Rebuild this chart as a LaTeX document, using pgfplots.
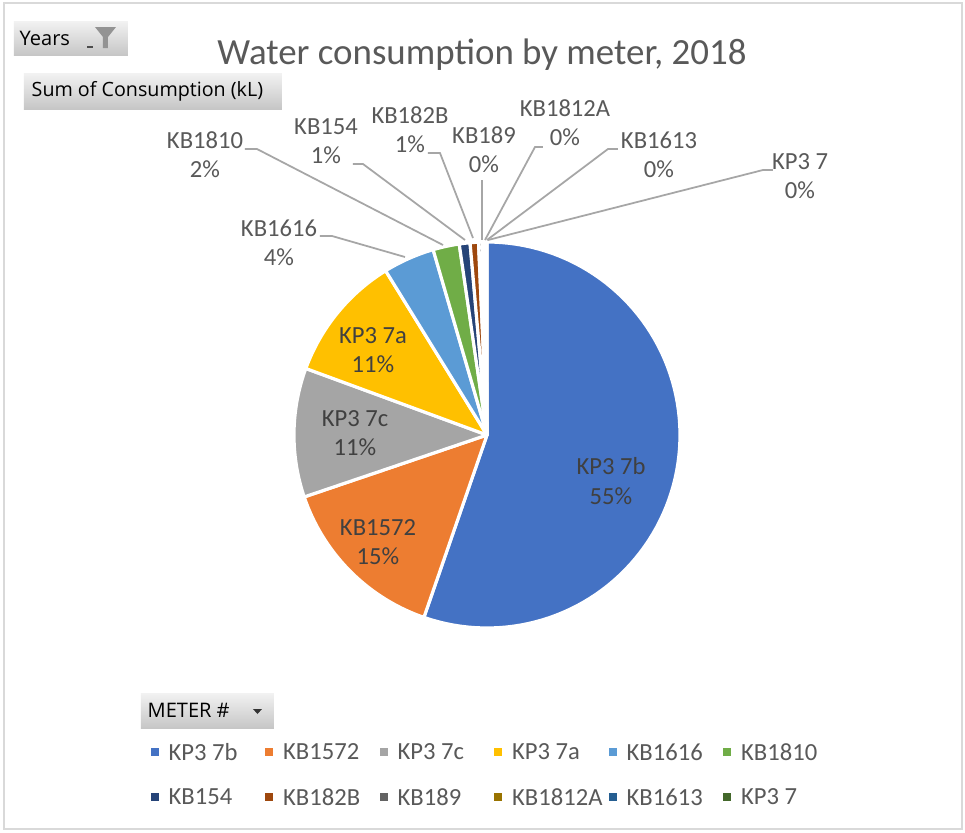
\documentclass[border=0pt]{standalone}
\usepackage{pgfplots}
\pgfplotsset{compat=1.18}
\usepackage{fontspec}
\setmainfont{Carlito}
\newfontfamily\btnfont{Open Sans}
\definecolor{c1}{HTML}{4472C4}
\definecolor{c2}{HTML}{ED7D31}
\definecolor{c3}{HTML}{A5A5A5}
\definecolor{c4}{HTML}{FFC000}
\definecolor{c5}{HTML}{5B9BD5}
\definecolor{c6}{HTML}{70AD47}
\definecolor{c7}{HTML}{264478}
\definecolor{c8}{HTML}{9E480E}
\definecolor{c9}{HTML}{636363}
\definecolor{c10}{HTML}{997300}
\definecolor{c11}{HTML}{255E91}
\definecolor{c12}{HTML}{43682B}
\definecolor{txt}{HTML}{595959}
\definecolor{intxt}{HTML}{404040}
\definecolor{leader}{HTML}{A6A6A6}
\definecolor{framegray}{HTML}{D9D9D9}
\definecolor{btntop}{HTML}{F2F2F2}
\definecolor{btnbot}{HTML}{C6C6C6}
% value in percent of total consumption; slices from cumulative start to end
\newcommand{\pieslice}[3]{%
  \addplot[draw=white, line width=0.9pt, line join=round, fill=#3,
    domain=#1*3.6:#2*3.6, samples=90, variable=\t]
    ({487+193*sin(\t)},{397+193*cos(\t)}) -- (axis cs:487,397) -- cycle;
}
\begin{document}
\begin{tikzpicture}
\begin{axis}[
  scale only axis, width=9.65cm, height=8.32cm,
  xmin=0, xmax=965, ymin=0, ymax=832,
  hide axis, clip=false,
]
\path[fill=white] (axis cs:0,0) rectangle (axis cs:965,832);
\draw[framegray, line width=0.5pt] (axis cs:4,3) rectangle (axis cs:962,829);

% slices: KP3 7b 55.3, KB1572 14.5, KP3 7c 10.8, KP3 7a 10.6, KB1616 4.3,
% KB1810 2.2, KB154 0.9, KB182B 0.7, KB189 0.3, KB1812A 0.2, KB1613 0.1, KP3 7 0.1
\pieslice{0}{55.3}{c1}
\pieslice{55.3}{69.8}{c2}
\pieslice{69.8}{80.6}{c3}
\pieslice{80.6}{91.2}{c4}
\pieslice{91.2}{95.5}{c5}
\pieslice{95.5}{97.7}{c6}
\pieslice{97.7}{98.6}{c7}
\pieslice{98.6}{99.3}{c8}
\pieslice{99.3}{99.6}{c9}
\pieslice{99.6}{99.8}{c10}
\pieslice{99.8}{99.9}{c11}
\pieslice{99.9}{100}{c12}

% leader lines
\addplot[leader, line width=0.5pt, no marks] coordinates {(320,596) (332,596) (405,575)};
\addplot[leader, line width=0.5pt, no marks] coordinates {(245,683) (257,683) (443,587)};
\addplot[leader, line width=0.5pt, no marks] coordinates {(353,668) (363,668) (465,592)};
\addplot[leader, line width=0.5pt, no marks] coordinates {(428,679) (440,679) (473,594)};
\addplot[leader, line width=0.5pt, no marks] coordinates {(482,652) (482,592)};
\addplot[leader, line width=0.5pt, no marks] coordinates {(543,685) (535,685) (485,592)};
\addplot[leader, line width=0.5pt, no marks] coordinates {(618,683) (608,683) (487,592)};
\addplot[leader, line width=0.5pt, no marks] coordinates {(773,662) (763,662) (488,592)};

\tikzset{lab/.style={align=center, font=\fontsize{7}{8.3}\selectfont, text=txt, inner sep=0pt},
         inlab/.style={align=center, font=\fontsize{7}{8.3}\selectfont, text=intxt, inner sep=0pt}}
% inside labels
\node[inlab] at (axis cs:611,351) {KP3 7b\\55\%};
\node[inlab] at (axis cs:378,290) {KB1572\\15\%};
\node[inlab] at (axis cs:355,399) {KP3 7c\\11\%};
\node[inlab] at (axis cs:373,482) {KP3 7a\\11\%};
% outside labels
\node[lab] at (axis cs:279,589.5) {KB1616\\4\%};
\node[lab] at (axis cs:205,677) {KB1810\\2\%};
\node[lab] at (axis cs:326,691) {KB154\\1\%};
\node[lab] at (axis cs:410,702) {KB182B\\1\%};
\node[lab] at (axis cs:484,682) {KB189\\0\%};
\node[lab] at (axis cs:565,709.5) {KB1812A\\0\%};
\node[lab] at (axis cs:659,677.5) {KB1613\\0\%};
\node[lab] at (axis cs:800,656) {KP3 7\\0\%};

% title
\node[text=txt, font=\fontsize{10.5}{12}\selectfont, inner sep=0pt] at (axis cs:482,777) {Water consumption by meter, 2018};

% buttons
\shade[top color=btntop, bottom color=btnbot] (axis cs:14,777) rectangle (axis cs:128,811);
\node[anchor=west, inner sep=0pt, font=\btnfont\fontsize{5.7}{7}\selectfont] at (axis cs:19,794) {Years};
\fill[black!70] (axis cs:87,784.5) rectangle (axis cs:93,786.5);
\fill[gray!85] (axis cs:95,805) -- (axis cs:116,805) -- (axis cs:108,795) -- (axis cs:108,784) -- (axis cs:103,784) -- (axis cs:103,795) -- cycle;
\shade[top color=btntop, bottom color=btnbot] (axis cs:24,723) rectangle (axis cs:282,759);
\node[anchor=west, inner sep=0pt, font=\btnfont\fontsize{5.6}{7}\selectfont] at (axis cs:31,741) {Sum of Consumption (kL)};
\shade[top color=btntop, bottom color=btnbot] (axis cs:141,104) rectangle (axis cs:274,139);
\node[anchor=west, inner sep=0pt, font=\btnfont\fontsize{5.7}{7}\selectfont] at (axis cs:147,121.5) {METER \#};
\fill[black!80] (axis cs:253,123) -- (axis cs:262,123) -- (axis cs:257.5,118) -- cycle;

% legend
\tikzset{leg/.style={anchor=west, inner sep=0pt, text=txt, font=\fontsize{7}{8}\selectfont}}
\fill[c1] (axis cs:151,76) rectangle (axis cs:159,84);   \node[leg] at (axis cs:168,80) {KP3 7b};
\fill[c2] (axis cs:265.5,76) rectangle (axis cs:273.5,84); \node[leg] at (axis cs:282.5,80) {KB1572};
\fill[c3] (axis cs:380,76) rectangle (axis cs:388,84);   \node[leg] at (axis cs:397,80) {KP3 7c};
\fill[c4] (axis cs:494.5,76) rectangle (axis cs:502.5,84); \node[leg] at (axis cs:511.5,80) {KP3 7a};
\fill[c5] (axis cs:609,76) rectangle (axis cs:617,84);   \node[leg] at (axis cs:626,80) {KB1616};
\fill[c6] (axis cs:723.5,76) rectangle (axis cs:731.5,84); \node[leg] at (axis cs:740.5,80) {KB1810};
\fill[c7] (axis cs:151,31) rectangle (axis cs:159,39);   \node[leg] at (axis cs:168,35) {KB154};
\fill[c8] (axis cs:265.5,31) rectangle (axis cs:273.5,39); \node[leg] at (axis cs:282.5,35) {KB182B};
\fill[c9] (axis cs:380,31) rectangle (axis cs:388,39);   \node[leg] at (axis cs:397,35) {KB189};
\fill[c10] (axis cs:494.5,31) rectangle (axis cs:502.5,39); \node[leg] at (axis cs:511.5,35) {KB1812A};
\fill[c11] (axis cs:609,31) rectangle (axis cs:617,39);   \node[leg] at (axis cs:626,35) {KB1613};
\fill[c12] (axis cs:723.5,31) rectangle (axis cs:731.5,39); \node[leg] at (axis cs:740.5,35) {KP3 7};
\end{axis}
\end{tikzpicture}
\end{document}
